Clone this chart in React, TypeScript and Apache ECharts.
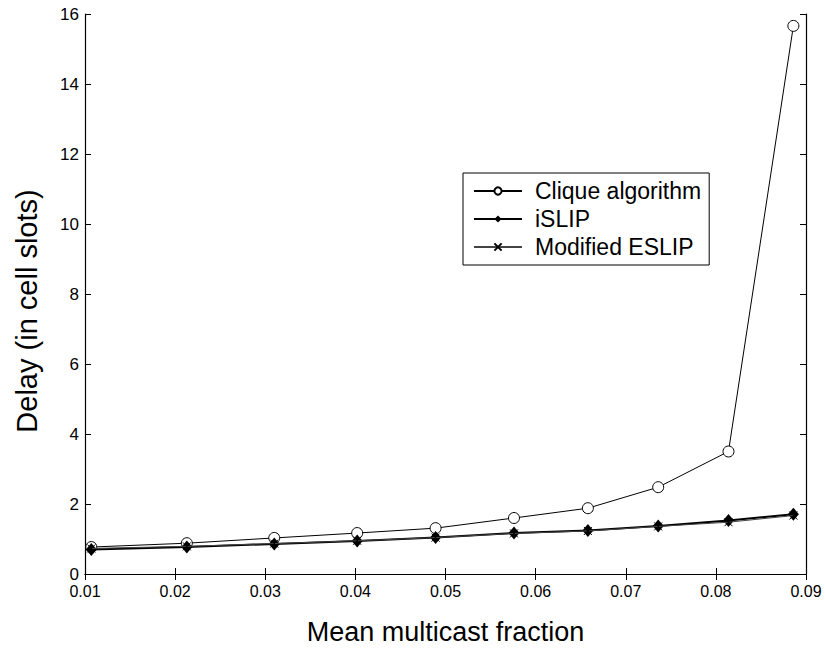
import React, { useEffect, useRef } from "react";
import * as echarts from "echarts";

const xValues = [0.0107, 0.0213, 0.031, 0.0402, 0.0489, 0.0576, 0.0658, 0.0736, 0.0814, 0.0886];
const cliqueValues = [0.77, 0.88, 1.03, 1.17, 1.31, 1.6, 1.88, 2.48, 3.5, 15.66];
const islipValues = [0.7, 0.77, 0.86, 0.94, 1.04, 1.17, 1.24, 1.37, 1.53, 1.71];
const eslipValues = [0.73, 0.79, 0.87, 0.95, 1.04, 1.16, 1.23, 1.36, 1.48, 1.67];
const seriesNames = ["Clique algorithm", "iSLIP", "Modified ESLIP"];
const xAxisTitle = "Mean multicast fraction";
const yAxisTitle = "Delay (in cell slots)";

const FONT = "'Liberation Sans', Arial, Helvetica, sans-serif";

function pairs(ys: number[]) {
  return xValues.map((x, i) => [x, ys[i]]);
}

export default function App() {
  const ref = useRef<HTMLDivElement>(null);
  useEffect(() => {
    if (!ref.current) return;
    const chart = echarts.init(ref.current, undefined, { renderer: "svg" });
    const axisLine = { show: true, lineStyle: { color: "#000", width: 1.2 } };
    const ticks = { show: true, inside: true, length: 6, lineStyle: { color: "#000", width: 1 } };
    chart.setOption({
      animation: false,
      backgroundColor: "#fff",
      grid: { left: 85, right: 19, top: 14, bottom: 75, containLabel: false },
      legend: {
        orient: "vertical",
        left: 463,
        top: 173,
        backgroundColor: "#fff",
        borderColor: "#000",
        borderWidth: 1,
        borderRadius: 0,
        padding: [4, 8, 4, 10],
        itemGap: 0,
        itemWidth: 48,
        itemHeight: 9,
        textStyle: { fontFamily: FONT, fontSize: 23, color: "#000", lineHeight: 28, padding: [0, 0, 0, 8] },
        data: seriesNames,
      },
      xAxis: [
        {
          type: "value",
          min: 0.01,
          max: 0.09,
          interval: 0.01,
          name: xAxisTitle,
          nameLocation: "middle",
          nameGap: 44,
          nameTextStyle: { fontFamily: FONT, fontSize: 27, color: "#000" },
          axisLine,
          axisTick: ticks,
          splitLine: { show: false },
          axisLabel: {
            fontFamily: FONT,
            fontSize: 16,
            color: "#000",
            margin: 9,
            formatter: (v: number) => v.toFixed(2),
          },
        },
        {
          type: "value",
          position: "top",
          min: 0.01,
          max: 0.09,
          interval: 0.01,
          axisLine,
          axisTick: ticks,
          axisLabel: { show: false },
          splitLine: { show: false },
        },
      ],
      yAxis: [
        {
          type: "value",
          min: 0,
          max: 16,
          interval: 2,
          name: yAxisTitle,
          nameLocation: "middle",
          nameGap: 44,
          nameTextStyle: { fontFamily: FONT, fontSize: 29, color: "#000", padding: [0, 34, 0, 0] },
          axisLine,
          axisTick: ticks,
          splitLine: { show: false },
          axisLabel: { fontFamily: FONT, fontSize: 17, color: "#000", margin: 6, lineHeight: 14 },
        },
        {
          type: "value",
          position: "right",
          min: 0,
          max: 16,
          interval: 2,
          axisLine,
          axisTick: ticks,
          axisLabel: { show: false },
          splitLine: { show: false },
        },
      ],
      series: [
        {
          name: seriesNames[0],
          type: "line",
          data: pairs(cliqueValues),
          symbol: "circle",
          symbolSize: 11,
          showAllSymbol: true,
          lineStyle: { color: "#000", width: 1 },
          itemStyle: { color: "#fff", borderColor: "#000", borderWidth: 1 },
          z: 3,
        },
        {
          name: seriesNames[1],
          type: "line",
          data: pairs(islipValues),
          symbol: "diamond",
          symbolSize: [11, 13],
          lineStyle: { color: "#000", width: 2 },
          itemStyle: { color: "#000", borderColor: "#000", borderWidth: 0 },
          z: 4,
        },
        {
          name: seriesNames[2],
          type: "line",
          data: pairs(eslipValues),
          symbol: "path://M0,0L10,10M10,0L0,10",
          symbolSize: 8,
          lineStyle: { color: "#444", width: 1 },
          itemStyle: { color: "#000", borderColor: "#000", borderWidth: 1 },
          z: 5,
        },
      ],
    });
    return () => chart.dispose();
  }, []);
  return (
    <div
      ref={ref}
      style={{ position: "absolute", left: 0, top: 0, width: 825, height: 650, background: "#fff" }}
    />
  );
}
